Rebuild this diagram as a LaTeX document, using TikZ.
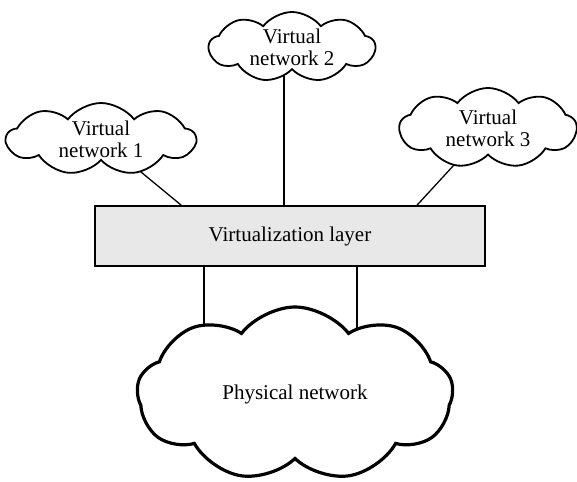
\documentclass[tikz,border=0pt]{standalone}
\usepackage{fontspec}
\setmainfont{Liberation Serif}
\usetikzlibrary{shapes.symbols,calc,backgrounds}
\begin{document}
\begin{tikzpicture}[x=1pt,y=-1pt,
  txt/.style={font=\fontsize{21}{22}\selectfont},
  vcloud/.style={cloud, cloud puffs=9, cloud puff arc=105, cloud ignores aspect, draw, line width=1.8pt, fill=white, align=center, inner sep=0pt, txt},
  pcloud/.style={cloud, cloud puffs=9, cloud puff arc=105, cloud ignores aspect, draw, line width=3.2pt, fill=white, align=center, inner sep=0pt, txt},
  layerbox/.style={draw, line width=1.8pt, fill=black!9, minimum width=390pt, minimum height=60pt, inner sep=0pt, txt},
  link/.style={line width=1.3pt}]
\useasboundingbox (0,0) rectangle (577,481);
\node[layerbox] (layer) at (290,236) {Virtualization layer};
\node[vcloud, minimum width=189pt, minimum height=72pt] (v1) at (101,139) {Virtual\\network 1};
\node[vcloud, minimum width=166pt, minimum height=70pt] (v2) at (292,47) {Virtual\\network 2};
\node[vcloud, minimum width=177pt, minimum height=80pt] (v3) at (488,128) {Virtual\\network 3};
\node[pcloud, minimum width=316pt, minimum height=174pt] (phys) at (295,394) {Physical network};
\coordinate (l1) at ($(layer.north west)+(87,0)$);
\coordinate (l2) at ($(layer.north west)+(190,0)$);
\coordinate (l3) at ($(layer.north west)+(323,0)$);
\coordinate (b1) at ($(layer.south west)+(110,0)$);
\coordinate (b2) at ($(layer.south west)+(263,0)$);
\begin{scope}[on background layer]
\draw[link] (l1) -- (v1.center);
\draw[link] (l2) -- (l2 |- v2.center);
\draw[link] (l3) -- (v3.center);
\draw[link] (b1) -- (b1 |- phys.center);
\draw[link] (b2) -- (b2 |- phys.center);
\end{scope}
\end{tikzpicture}
\end{document}
